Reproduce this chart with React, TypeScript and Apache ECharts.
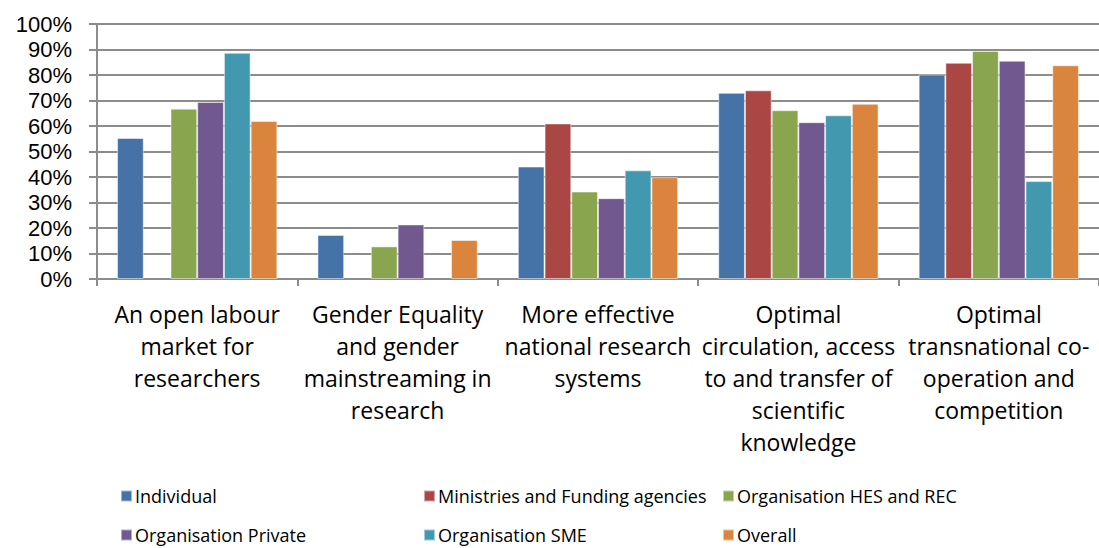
import React, { useEffect, useRef } from "react";
import * as echarts from "echarts";

const categories = [
  "An open labour\nmarket for\nresearchers",
  "Gender Equality\nand gender\nmainstreaming in\nresearch",
  "More effective\nnational research\nsystems",
  "Optimal\ncirculation, access\nto and transfer of\nscientific\nknowledge",
  "Optimal\ntransnational co-\noperation and\ncompetition",
];

const seriesNames = [
  "Individual",
  "Ministries and Funding agencies",
  "Organisation HES and REC",
  "Organisation Private",
  "Organisation SME",
  "Overall",
];

const individual = [55.3, 17.3, 44.1, 73.0, 80.2];
const ministries = [null, null, 61.0, 74.0, 84.8];
const orgHesRec = [66.8, 12.8, 34.3, 66.2, 89.4];
const orgPrivate = [69.4, 21.4, 31.7, 61.5, 85.6];
const orgSme = [88.7, null, 42.6, 64.2, 38.4];
const overall = [62.0, 15.3, 39.9, 68.7, 83.8];

const seriesValues = [individual, ministries, orgHesRec, orgPrivate, orgSme, overall];
const colors = ["#4572A7", "#AA4643", "#89A54E", "#71588F", "#4198AF", "#DB843D"];

const legendPos = [
  { left: 120, top: 486 },
  { left: 423, top: 486 },
  { left: 722, top: 486 },
  { left: 120, top: 525 },
  { left: 423, top: 525 },
  { left: 722, top: 525 },
];

const FONT = "'Open Sans', Lato, sans-serif";
const YFONT = "'Liberation Sans', Arial, sans-serif";

export default function App() {
  const ref = useRef<HTMLDivElement>(null);
  useEffect(() => {
    if (!ref.current) return;
    const chart = echarts.init(ref.current, null, { renderer: "svg" });
    chart.setOption({
      animation: false,
      backgroundColor: "#fff",
      textStyle: { fontFamily: FONT },
      grid: { left: 97, top: 24, width: 1009, height: 255, containLabel: false },
      legend: seriesNames.map((n, i) => ({
        data: [n],
        left: legendPos[i].left,
        top: legendPos[i].top,
        itemWidth: 11,
        itemHeight: 11,
        itemGap: 6,
        padding: 0,
        icon: "rect",
        textStyle: {
          fontFamily: FONT,
          fontSize: 18,
          lineHeight: 20,
          color: "#000",
          padding: [0, 0, 0, -2],
        },
        selectedMode: false,
      })),
      xAxis: {
        type: "category",
        data: categories,
        axisLine: { lineStyle: { color: "#8c8c8c", width: 2 } },
        axisTick: { show: true, length: 7, lineStyle: { color: "#8c8c8c", width: 2 } },
        axisLabel: {
          interval: 0,
          color: "#000",
          fontFamily: FONT,
          fontSize: 23,
          lineHeight: 32,
          margin: 19,
        },
      },
      yAxis: {
        type: "value",
        min: 0,
        max: 100,
        interval: 10,
        axisLine: { show: true, lineStyle: { color: "#8c8c8c", width: 2 } },
        axisTick: { show: true, length: 8, lineStyle: { color: "#8c8c8c", width: 2 } },
        splitLine: { lineStyle: { color: "#8c8c8c", width: 2 } },
        axisLabel: {
          color: "#000",
          fontFamily: YFONT,
          fontSize: 22,
          lineHeight: 22,
          margin: 25,
          formatter: (v: number) => `${v}%`,
        },
      },
      series: seriesNames.map((n, i) => ({
        name: n,
        type: "bar",
        data: seriesValues[i],
        barGap: "0%",
        barCategoryGap: "20%",
        itemStyle: {
          color: colors[i],
          borderColor: "rgba(255,255,255,0.5)",
          borderWidth: 1,
        },
      })),
    });
    return () => chart.dispose();
  }, []);
  return (
    <div
      ref={ref}
      style={{ position: "fixed", left: 0, top: 0, width: 1099, height: 548 }}
    />
  );
}
